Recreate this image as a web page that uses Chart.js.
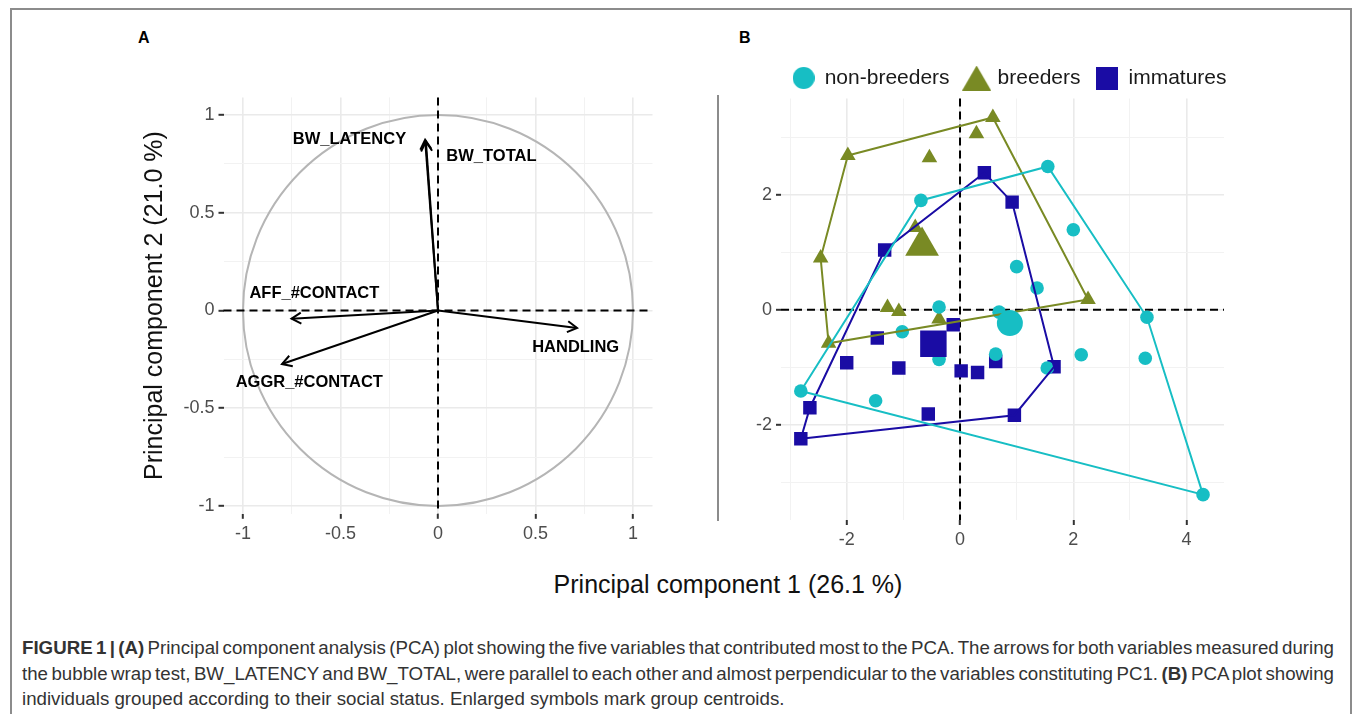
<!DOCTYPE html>
<html>
<head>
<meta charset="utf-8">
<script src="https://cdn.jsdelivr.net/npm/chart.js@4.4.1/dist/chart.umd.min.js"></script>
<style>
html,body{margin:0;padding:0;background:#fff;}
body{width:1357px;height:714px;overflow:hidden;position:relative;font-family:"Liberation Sans",Arial,Helvetica,sans-serif;}
.fr{position:absolute;background:#8c8c8c;}
#boxA{position:absolute;left:0;top:0;width:700px;height:560px;}
#boxB{position:absolute;left:700px;top:0;width:657px;height:560px;}
.panel{position:absolute;font-weight:bold;font-size:16px;color:#000;line-height:20px;}
#xTitle{position:absolute;left:0;width:1456px;top:569px;line-height:30px;text-align:center;font-size:25px;color:#111;}
#sep{position:absolute;left:717px;top:95px;width:2px;height:426px;background:#8c8c8c;}
.cap{position:absolute;left:22px;white-space:nowrap;color:#333;line-height:20px;font-size:16px;}
</style>
</head>
<body>
<div class="fr" style="left:10px;top:8px;width:1341px;height:1.5px;"></div>
<div class="fr" style="left:10px;top:8px;width:1.5px;height:706px;"></div>
<div class="fr" style="left:1350px;top:8px;width:1.5px;height:706px;"></div>

<div class="panel" style="left:138px;top:28px;">A</div>
<div class="panel" style="left:739px;top:28px;">B</div>
<div id="sep"></div>

<div id="boxA"><canvas id="chartA" width="700" height="560"></canvas></div>
<div id="boxB"><canvas id="chartB" width="657" height="560"></canvas></div>

<div id="xTitle">Principal component 1 (26.1 %)</div>

<div class="cap" id="cap1" style="top:638px;"><b>FIGURE 1 | (A)</b> Principal component analysis (PCA) plot showing the five variables that contributed most to the PCA. The arrows for both variables measured during</div>
<div class="cap" id="cap2" style="top:664px;">the bubble wrap test, BW_LATENCY and BW_TOTAL, were parallel to each other and almost perpendicular to the variables constituting PC1. <b>(B)</b> PCA plot showing</div>
<div class="cap" id="cap3" style="top:689px;">individuals grouped according to their social status. Enlarged symbols mark group centroids.</div>

<script>
const FONT = '"Liberation Sans", Arial, Helvetica, sans-serif';

// ---------------- Panel A : variable loadings ----------------
const varNames  = ['BW_LATENCY', 'BW_TOTAL', 'AFF_#CONTACT', 'AGGR_#CONTACT', 'HANDLING'];
const loadPC1   = [-0.066, -0.062, -0.751, -0.800,  0.713];
const loadPC2   = [ 0.873,  0.864, -0.042, -0.274, -0.089];
const labelPC1  = [-0.454,  0.274, -0.634, -0.660,  0.706];
const labelPC2  = [ 0.876,  0.787,  0.086, -0.368, -0.188];
const ticksA      = [-1, -0.5, 0, 0.5, 1];
const tickLabelsA = ['-1', '-0.5', '0', '0.5', '1'];
const minorTicksA = [-0.75, -0.25, 0.25, 0.75];

// ---------------- Panel B : individual scores ----------------
const groupNames = ['non-breeders', 'breeders', 'immatures'];
const nonBreedersPC1 = [1.55, -0.69, 2.00, 1.00, 1.36, -0.37, 0.69, 3.30, -1.02, 0.63, -0.37, 2.14, 3.27, 1.54, -2.81, -1.49, 4.29];
const nonBreedersPC2 = [2.49,  1.90, 1.39, 0.75, 0.38,  0.05, -0.04, -0.13, -0.38, -0.77, -0.86, -0.78, -0.84, -1.01, -1.41, -1.58, -3.21];
const breedersPC1 = [0.58, 0.29, -1.98, -0.54, -0.79, -2.46, -1.28, -1.08, -0.37, 2.26, -2.32];
const breedersPC2 = [3.34, 3.06,  2.68,  2.64,  1.43,  0.90,  0.04, -0.03, -0.16, 0.18, -0.58];
const immaturesPC1 = [0.43, 0.92, -1.33, -0.12, -1.46, -2.00, -1.08, 0.02, 0.31, 0.63, 1.66, -2.65, -0.56, 0.96, -2.81];
const immaturesPC2 = [2.38, 1.87,  1.04, -0.26, -0.49, -0.92, -1.01, -1.06, -1.09, -0.90, -0.99, -1.70, -1.81, -1.83, -2.24];
const centroidPC1 = [0.88, -0.67, -0.47];
const centroidPC2 = [-0.23, 1.11, -0.59];
// convex hull vertex order (indices into each group's arrays)
const hullNonBreeders = [14, 1, 0, 7, 16];
const hullBreeders    = [2, 0, 9, 10, 5];
const hullImmatures   = [14, 11, 2, 0, 1, 10, 13];
const ticksBx = [-2, 0, 2, 4];
const tickLabelsBx = ['-2', '0', '2', '4'];
const minorTicksBx = [-3, -1, 1, 3];
const ticksBy = [-2, 0, 2];
const tickLabelsBy = ['-2', '0', '2'];
const minorTicksBy = [-3, -1, 1, 3];

// ---------------- styles ----------------
const groupColors = ['#17BEC4', '#798A24', '#1A0CA4'];
const groupShapes = ['circle', 'triangle', 'rect'];
const pointRadii = [6.8, 9, 9.5];
const centroidRadii = [13, 19.5, 18.7];

function linearAxis(min, max, majors, majorLabels, minors, fitFn, extra) {
  const all = majors.concat(minors).sort((a, b) => a - b);
  const isMajor = c => !!(c.tick && majors.indexOf(c.tick.value) >= 0);
  return Object.assign({
    type: 'linear', min: min, max: max,
    afterBuildTicks: s => { s.ticks = all.map(v => ({ value: v })); },
    afterFit: fitFn,
    border: { display: false },
    grid: {
      color: c => isMajor(c) ? '#EAEAEA' : '#F2F2F2',
      lineWidth: c => isMajor(c) ? 1.6 : 1,
      drawTicks: true, tickLength: 5, tickWidth: 2,
      tickColor: c => isMajor(c) ? '#333333' : 'rgba(0,0,0,0)'
    },
    ticks: {
      autoSkip: false, maxRotation: 0, minRotation: 0, padding: 4,
      color: '#4D4D4D', font: { family: FONT, size: 18 },
      callback: v => { const i = majors.indexOf(v); return i >= 0 ? majorLabels[i] : ''; }
    }
  }, extra || {});
}

function zeroLines(ctx, a, x, y) {
  const px = x.getPixelForValue(0), py = y.getPixelForValue(0);
  ctx.save();
  ctx.strokeStyle = '#000'; ctx.lineWidth = 2; ctx.setLineDash([8, 5]);
  ctx.beginPath();
  ctx.moveTo(px, a.top); ctx.lineTo(px, a.bottom);
  ctx.moveTo(a.left, py); ctx.lineTo(a.right, py);
  ctx.stroke();
  ctx.restore();
}

// ---------------- Chart A ----------------
const pluginA = {
  id: 'pcaCircle',
  beforeDatasetsDraw(chart) {
    const { ctx, chartArea: a, scales: { x, y } } = chart;
    const cx = x.getPixelForValue(0), cy = y.getPixelForValue(0);
    ctx.save();
    ctx.strokeStyle = '#B5B5B5'; ctx.lineWidth = 2;
    ctx.beginPath();
    ctx.ellipse(cx, cy, x.getPixelForValue(1) - cx, cy - y.getPixelForValue(1), 0, 0, 2 * Math.PI);
    ctx.stroke();
    ctx.restore();
    zeroLines(ctx, a, x, y);
  },
  afterDatasetsDraw(chart) {
    const { ctx, scales: { x, y } } = chart;
    ctx.save();
    ctx.strokeStyle = '#000'; ctx.lineWidth = 2;
    const x0 = x.getPixelForValue(0), y0 = y.getPixelForValue(0);
    loadPC1.forEach((v, i) => {
      const x1 = x.getPixelForValue(v), y1 = y.getPixelForValue(loadPC2[i]);
      const ang = Math.atan2(y1 - y0, x1 - x0), L = 11, sp = Math.PI / 6;
      ctx.beginPath();
      ctx.moveTo(x1 - L * Math.cos(ang - sp), y1 - L * Math.sin(ang - sp));
      ctx.lineTo(x1, y1);
      ctx.lineTo(x1 - L * Math.cos(ang + sp), y1 - L * Math.sin(ang + sp));
      ctx.stroke();
    });
    ctx.fillStyle = '#000';
    ctx.font = 'bold 16.5px ' + FONT;
    ctx.textAlign = 'center'; ctx.textBaseline = 'middle';
    varNames.forEach((n, i) => ctx.fillText(n, x.getPixelForValue(labelPC1[i]), y.getPixelForValue(labelPC2[i])));
    ctx.restore();
  }
};

new Chart(document.getElementById('chartA'), {
  type: 'scatter',
  data: {
    datasets: varNames.map((n, i) => ({
      label: n,
      data: [{ x: 0, y: 0 }, { x: loadPC1[i], y: loadPC2[i] }],
      showLine: true, borderColor: '#000', borderWidth: 2, pointRadius: 0, fill: false
    }))
  },
  options: {
    responsive: false, animation: false, events: [],
    layout: { padding: { left: 140, right: 47.5, top: 97.4, bottom: 16.2 } },
    plugins: { legend: { display: false }, tooltip: { enabled: false } },
    scales: {
      x: linearAxis(-1.1, 1.1, ticksA, tickLabelsA, minorTicksA, s => { s.height = 30; }),
      y: linearAxis(-1.04, 1.09, ticksA, tickLabelsA, minorTicksA, s => { s.width = 83.5; }, {
        title: { display: true, text: 'Principal component 2 (21.0 %)', color: '#111', padding: 0,
                 font: { family: FONT, size: 25 } }
      })
    }
  },
  plugins: [pluginA]
});

// ---------------- Chart B ----------------
function makeMarker(kind, color, w, h) {
  const c = document.createElement('canvas');
  c.width = w; c.height = h;
  const g = c.getContext('2d');
  g.fillStyle = color;
  g.beginPath();
  if (kind === 'circle') g.arc(w / 2, h / 2, Math.min(w, h) / 2, 0, 2 * Math.PI);
  else if (kind === 'triangle') { g.moveTo(w / 2, 0); g.lineTo(w, h); g.lineTo(0, h); g.closePath(); }
  else g.rect(0, 0, w, h);
  g.fill();
  return c;
}
const legendMarkers = [
  makeMarker('circle', groupColors[0], 22, 22),
  makeMarker('triangle', groupColors[1], 29, 25),
  makeMarker('rect', groupColors[2], 22, 23)
];

const groupPC1 = [nonBreedersPC1, breedersPC1, immaturesPC1];
const groupPC2 = [nonBreedersPC2, breedersPC2, immaturesPC2];
const groupHulls = [hullNonBreeders, hullBreeders, hullImmatures];

const dsPoints = groupNames.map((n, g) => ({
  label: n, isGroup: true,
  data: groupPC1[g].map((v, i) => ({ x: v, y: groupPC2[g][i] })),
  pointStyle: groupShapes[g], pointRadius: pointRadii[g], pointBorderWidth: 0,
  backgroundColor: groupColors[g], borderColor: groupColors[g],
  order: 31 + (g === 0 ? 0 : g === 2 ? 1 : 2)
}));
const dsHulls = groupNames.map((n, g) => {
  const idx = groupHulls[g].concat([groupHulls[g][0]]);
  return {
    label: n + ' hull',
    data: idx.map(i => ({ x: groupPC1[g][i], y: groupPC2[g][i] })),
    showLine: true, borderColor: groupColors[g], borderWidth: 2, pointRadius: 0, fill: false,
    order: 20
  };
});
const dsCentroids = groupNames.map((n, g) => ({
  label: n + ' centroid',
  data: [{ x: centroidPC1[g], y: centroidPC2[g] }],
  pointStyle: groupShapes[g], pointRadius: centroidRadii[g], pointBorderWidth: 0,
  backgroundColor: groupColors[g], borderColor: groupColors[g],
  order: 10
}));

new Chart(document.getElementById('chartB'), {
  type: 'scatter',
  data: { datasets: dsPoints.concat(dsHulls, dsCentroids) },
  options: {
    responsive: false, animation: false, events: [],
    layout: { padding: { left: 41, right: 114, top: 51, bottom: 10 } },
    plugins: {
      tooltip: { enabled: false },
      legend: {
        display: true, position: 'top', align: 'end', fullSize: true,
        labels: {
          usePointStyle: true, pointStyleWidth: 21, padding: 16.5,
          color: '#1a1a1a', font: { family: FONT, size: 21 },
          generateLabels: () => groupNames.map((n, i) => ({
            text: n, pointStyle: legendMarkers[i], fillStyle: groupColors[i],
            strokeStyle: groupColors[i], lineWidth: 0, hidden: false, datasetIndex: i, fontColor: '#1a1a1a'
          }))
        }
      }
    },
    scales: {
      x: linearAxis(-3.16, 4.66, ticksBx, tickLabelsBx, minorTicksBx, s => { s.height = 30; }),
      y: linearAxis(-3.65, 3.67, ticksBy, tickLabelsBy, minorTicksBy, s => { s.width = 40; }),
      // empty right-hand margin so the legend can extend past the panel like in ggplot
      yMargin: {
        type: 'linear', position: 'right', display: true,
        afterFit: s => { s.width = 19; },
        grid: { display: false, drawOnChartArea: false }, border: { display: false },
        ticks: { display: false }
      }
    }
  },
  plugins: [{
    id: 'zeroB',
    beforeDatasetsDraw(chart) {
      const { ctx, chartArea: a, scales: { x, y } } = chart;
      zeroLines(ctx, a, x, y);
    }
  }]
});

// ---------------- caption fitting ----------------
(function () {
  const c1 = document.getElementById('cap1'), c2 = document.getElementById('cap2'), c3 = document.getElementById('cap3');
  const w3 = c3.getBoundingClientRect().width;
  const fs = 16 * 763 / w3;
  [c1, c2, c3].forEach(e => e.style.fontSize = fs + 'px');
  [c1, c2].forEach(e => {
    const w = e.getBoundingClientRect().width;
    const n = (e.textContent.match(/ /g) || []).length;
    e.style.wordSpacing = ((1312 - w) / n) + 'px';
  });
})();
</script>
</body>
</html>
